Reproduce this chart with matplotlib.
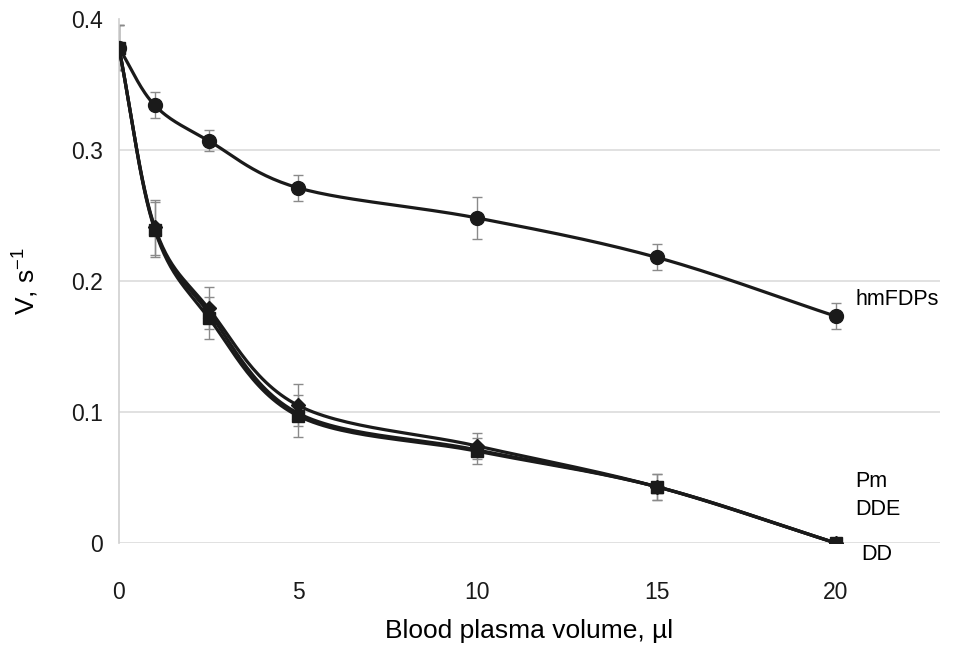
import numpy as np
import matplotlib
matplotlib.use("Agg")
import matplotlib.pyplot as plt

plt.rcParams['font.family'] = ['Liberation Sans', 'DejaVu Sans']
plt.rcParams['mathtext.default'] = 'regular'

# data
volume = [0, 1, 2.5, 5, 10, 15, 20]
hmfdps = [0.378, 0.334, 0.307, 0.271, 0.248, 0.218, 0.173]
hmfdps_err = [0.017, 0.010, 0.008, 0.010, 0.016, 0.010, 0.010]
pm = [0.378, 0.241, 0.179, 0.105, 0.074, 0.043, 0.0]
dde = [0.378, 0.240, 0.176, 0.099, 0.071, 0.043, 0.0]
dd = [0.378, 0.239, 0.172, 0.097, 0.070, 0.043, 0.0]
low_err = [0.017, 0.021, 0.016, 0.016, 0.010, 0.010, 0.0]
labels = ['hmFDPs', 'Pm', 'DDE', 'DD']


def smooth(x, y, n=30):
    # Excel-like smoothed line (Catmull-Rom through the points)
    x = np.asarray(x, float)
    y = np.asarray(y, float)
    px = np.concatenate([[2 * x[0] - x[1]], x, [2 * x[-1] - x[-2]]])
    py = np.concatenate([[2 * y[0] - y[1]], y, [2 * y[-1] - y[-2]]])
    xs, ys = [], []
    t = np.linspace(0, 1, n)
    for i in range(1, len(px) - 2):
        for p, out in ((px, xs), (py, ys)):
            p0, p1, p2, p3 = p[i - 1], p[i], p[i + 1], p[i + 2]
            out.append(0.5 * (2 * p1 + (-p0 + p2) * t
                              + (2 * p0 - 5 * p1 + 4 * p2 - p3) * t**2
                              + (-p0 + 3 * p1 - 3 * p2 + p3) * t**3))
    return np.concatenate(xs), np.concatenate(ys)


fig = plt.figure(figsize=(9.59, 6.48), dpi=100)
ax = fig.add_axes([0.124, 0.162, 0.856, 0.809])

for val in [0, 0.1, 0.2, 0.3]:
    ax.axhline(val, color='#dcdcdc', lw=1.2, zorder=0)

err_kw = dict(fmt='none', ecolor='#8a8a8a', elinewidth=1.0, capsize=3.5, capthick=1.0, zorder=2)
ax.errorbar(volume, hmfdps, yerr=hmfdps_err, **err_kw)
ax.errorbar(volume[:-1], pm[:-1], yerr=low_err[:-1], **err_kw)
ax.errorbar(volume[:-1], dd[:-1], yerr=low_err[:-1], **err_kw)

for ys, mk, ms in [(pm, 'D', 7.5), (dde, '^', 8.5), (dd, 's', 9), (hmfdps, 'o', 10)]:
    sx, sy = smooth(volume, ys)
    ax.plot(sx, sy, color='#1a1a1a', lw=2.3, zorder=3)
    ax.plot(volume, ys, ls='none', marker=mk, ms=ms, color='#1a1a1a', zorder=4)

ax.text(20.55, 0.1855, labels[0], fontsize=15.5, va='center', ha='left',
        bbox=dict(facecolor='white', edgecolor='none', pad=4))
ax.text(20.55, 0.0365, labels[1] + '\n' + labels[2], fontsize=15.5, va='center', ha='left',
        linespacing=1.45, bbox=dict(facecolor='white', edgecolor='none', pad=5))
ax.text(20.7, -0.009, labels[3], fontsize=15.5, va='center', ha='left')

ax.set_xlim(0, 22.9)
ax.set_ylim(0, 0.4)
ax.set_xticks([0, 5, 10, 15, 20])
ax.set_yticks([0, 0.1, 0.2, 0.3, 0.4])
ax.set_yticklabels(['0', '0.1', '0.2', '0.3', '0.4'])
ax.tick_params(length=0, labelsize=16.5, colors='#1a1a1a')
ax.tick_params(axis='x', pad=27)
ax.tick_params(axis='y', pad=11.5)
for side in ['top', 'right', 'bottom']:
    ax.spines[side].set_visible(False)
ax.spines['left'].set_color('#cfcfcf')
ax.spines['left'].set_linewidth(1.2)

ax.set_xlabel('Blood plasma volume, µl', fontsize=19, labelpad=11)
ax.set_ylabel('V, s$^{-1}$', fontsize=19, labelpad=22)

fig.savefig('out.png', dpi=100)
